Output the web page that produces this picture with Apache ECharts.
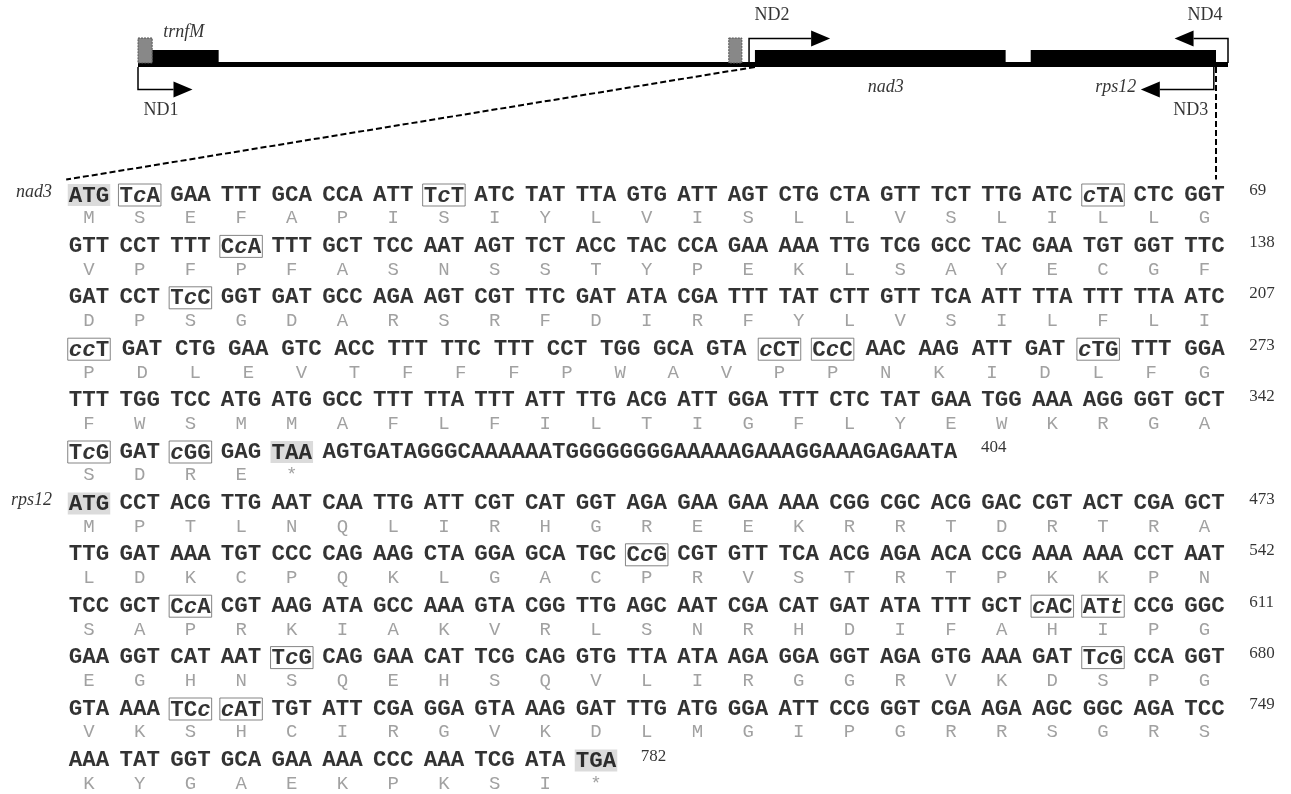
<!DOCTYPE html>
<html>
<head>
<meta charset="utf-8">
<script src="https://cdn.jsdelivr.net/npm/echarts@6/dist/echarts.min.js"></script>
<style>
  html, body { margin: 0; padding: 0; background: #fff; }
  #main { width: 1291px; height: 794px; }
</style>
</head>
<body>
<div id="main"></div>
<script>
// gene map (positions in % of the drawn map length)
const mapSpan = [ 0, 100 ];
const genes = [ [ 1.3, 7.4 ], [ 56.6, 79.6 ], [ 81.9, 98.9 ] ];
const geneNames = [ 'trnfM', 'nad3', 'rps12' ];
const geneLabelX = [ 4.2, 68.6, 89.7 ];
const geneLabelSide = [ 1, -1, -1 ];
const grayBoxes = [ [ 0, 1.3 ], [ 54.2, 55.4 ] ];
const primerNames = [ 'ND1', 'ND2', 'ND3', 'ND4' ];
const primerStart = [ 0, 56.06, 98.7, 100 ];
const primerEnd = [ 5.0, 63.5, 92.0, 95.1 ];
const primerSide = [ -1, 1, -1, 1 ];

// sequence
const codonRows = [
  'ATG TcA GAA TTT GCA CCA ATT TcT ATC TAT TTA GTG ATT AGT CTG CTA GTT TCT TTG ATC cTA CTC GGT',
  'GTT CCT TTT CcA TTT GCT TCC AAT AGT TCT ACC TAC CCA GAA AAA TTG TCG GCC TAC GAA TGT GGT TTC',
  'GAT CCT TcC GGT GAT GCC AGA AGT CGT TTC GAT ATA CGA TTT TAT CTT GTT TCA ATT TTA TTT TTA ATC',
  'ccT GAT CTG GAA GTC ACC TTT TTC TTT CCT TGG GCA GTA cCT CcC AAC AAG ATT GAT cTG TTT GGA',
  'TTT TGG TCC ATG ATG GCC TTT TTA TTT ATT TTG ACG ATT GGA TTT CTC TAT GAA TGG AAA AGG GGT GCT',
  'TcG GAT cGG GAG TAA',
  'ATG CCT ACG TTG AAT CAA TTG ATT CGT CAT GGT AGA GAA GAA AAA CGG CGC ACG GAC CGT ACT CGA GCT',
  'TTG GAT AAA TGT CCC CAG AAG CTA GGA GCA TGC CcG CGT GTT TCA ACG AGA ACA CCG AAA AAA CCT AAT',
  'TCC GCT CcA CGT AAG ATA GCC AAA GTA CGG TTG AGC AAT CGA CAT GAT ATA TTT GCT cAC ATt CCG GGC',
  'GAA GGT CAT AAT TcG CAG GAA CAT TCG CAG GTG TTA ATA AGA GGA GGT AGA GTG AAA GAT TcG CCA GGT',
  'GTA AAA TCc cAT TGT ATT CGA GGA GTA AAG GAT TTG ATG GGA ATT CCG GGT CGA AGA AGC GGC AGA TCC',
  'AAA TAT GGT GCA GAA AAA CCC AAA TCG ATA TGA'
];
const aaRows = [
  'M S E F A P I S I Y L V I S L L V S L I L L G',
  'V P F P F A S N S S T Y P E K L S A Y E C G F',
  'D P S G D A R S R F D I R F Y L V S I L F L I',
  'P D L E V T F F F P W A V P P N K I D L F G',
  'F W S M M A F L F I L T I G F L Y E W K R G A',
  'S D R E *',
  'M P T L N Q L I R H G R E E K R R T D R T R A',
  'L D K C P Q K L G A C P R V S T R T P K K P N',
  'S A P R K I A K V R L S N R H D I F A H I P G',
  'E G H N S Q E H S Q V L I R G G R V K D S P G',
  'V K S H C I R G V K D L M G I P G R R S G R S',
  'K Y G A E K P K S I *'
];
const rowEnds = [ 69, 138, 207, 273, 342, 404, 473, 542, 611, 680, 749, 782 ];
const startStop = [ [ 0, 0 ], [ 5, 4 ], [ 6, 0 ], [ 11, 10 ] ];
const tailRow = 5;
const tailSeq = 'AGTGATAGGGCAAAAAATGGGGGGGGAAAAAGAAAGGAAAGAGAATA';
const geneRows = [ 0, 6 ];
const geneRowNames = [ 'nad3', 'rps12' ];

const mono = '"Liberation Mono", "Courier New", monospace';
const serif = '"Liberation Serif", "Times New Roman", serif';
const colW = 50.7;
const seqSize = 22.5;
const charW = seqSize * 0.6;
const aaShift = 0.455;
const clear = 'rgba(0,0,0,0)';

function codonRich ( c )
{
  return c.split( '' ).map( ch => ( ch === ch.toLowerCase() ? '{i|' : '{b|' ) + ch + '}' ).join( '' );
}

let codonData = [], aaData = [], numData = [], rowLabelData = [];
codonRows.forEach( function ( row, r )
{
  const cods = row.split( ' ' );
  const step = cods.length === 22 ? 22 / 21 : 1;
  cods.forEach( function ( c, i )
  {
    let item = { value: [ i * step, r ], name: codonRich( c ) };
    if ( startStop.some( h => h[ 0 ] === r && h[ 1 ] === i ) )
    {
      item.label = { backgroundColor: '#d2d2d2', padding: [ 2, 1, 0, 1 ] };
    } else if ( /[a-z]/.test( c ) )
    {
      item.label = { borderColor: '#666', borderWidth: 1, padding: [ 2, 1, 0, 1 ] };
    }
    codonData.push( item );
  } );
  aaRows[ r ].split( ' ' ).forEach( function ( a, i )
  {
    aaData.push( { value: [ i * step, r + aaShift ], name: a } );
  } );
  let endPx = ( cods.length - 1 ) * step * colW + 1.5 * charW;
  if ( r === tailRow )
  {
    const tailStart = endPx + 10;
    codonData.push( { value: [ tailStart / colW, r ], name: '{b|' + tailSeq + '}', label: { position: 'right', distance: 0 } } );
    endPx = tailStart + tailSeq.length * charW;
  }
  numData.push( { value: [ ( endPx + 24 ) / colW, r ], name: String( rowEnds[ r ] ) } );
} );
geneRows.forEach( ( r, k ) => rowLabelData.push( { value: [ -0.72, r ], name: geneRowNames[ k ] } ) );

// map marks
let boxData = [ [ mapSpan[ 0 ], mapSpan[ 1 ], 0 ] ];
genes.forEach( g => boxData.push( [ g[ 0 ], g[ 1 ], 1 ] ) );
grayBoxes.forEach( g => boxData.push( [ g[ 0 ], g[ 1 ], 2 ] ) );
let primerData = primerNames.map( ( n, k ) => [ primerStart[ k ], primerEnd[ k ], primerSide[ k ] ] );
let mapTextData = geneNames.map( ( n, k ) => ( {
  value: [ geneLabelX[ k ], 0 ], name: n,
  label: { offset: [ 0, geneLabelSide[ k ] > 0 ? -32 : 23 ], fontStyle: 'italic' }
} ) );
primerNames.forEach( function ( n, k )
{
  const dir = primerEnd[ k ] > primerStart[ k ] ? 1 : -1;
  mapTextData.push( {
    value: [ primerStart[ k ], 0 ], name: n,
    label: { offset: [ dir * 23, primerSide[ k ] > 0 ? -49 : 46 ], fontStyle: 'normal' }
  } );
} );

let myChart = echarts.init( document.getElementById( 'main' ) );
const hiddenAxis = { show: false, axisLine: { show: false }, splitLine: { show: false }, axisTick: { show: false }, axisLabel: { show: false } };

function textSeries ( xi, data, label )
{
  return {
    type: 'scatter', xAxisIndex: xi, yAxisIndex: xi, silent: true, clip: false, progressive: 0,
    symbol: 'rect', symbolSize: 1, itemStyle: { color: clear },
    data: data,
    label: Object.assign( { show: true, position: 'inside', formatter: p => p.name }, label )
  };
}

let option = {
  animation: false,
  backgroundColor: '#fff',
  grid: [
    { left: 138, width: 1090, top: 14.5, height: 100 },
    { left: 89 - colW / 2, width: 23 * colW, top: 195 - 51.4 / 2, height: 12 * 51.4 }
  ],
  xAxis: [
    Object.assign( { type: 'value', gridIndex: 0, min: mapSpan[ 0 ], max: mapSpan[ 1 ] }, hiddenAxis ),
    Object.assign( { type: 'value', gridIndex: 1, min: -0.5, max: 22.5 }, hiddenAxis )
  ],
  yAxis: [
    Object.assign( { type: 'value', gridIndex: 0, min: -1, max: 1 }, hiddenAxis ),
    Object.assign( { type: 'value', gridIndex: 1, min: -0.5, max: 11.5, inverse: true }, hiddenAxis )
  ],
  series: [
    {
      type: 'custom', xAxisIndex: 0, yAxisIndex: 0, silent: true, clip: false,
      data: boxData,
      renderItem: function ( params, api )
      {
        const s = api.coord( [ api.value( 0 ), 0 ] );
        const e = api.coord( [ api.value( 1 ), 0 ] );
        const kind = api.value( 2 );
        const base = s[ 1 ];
        if ( kind === 0 )
          return { type: 'rect', shape: { x: s[ 0 ], y: base - 2.5, width: e[ 0 ] - s[ 0 ], height: 5 }, style: { fill: '#000' } };
        if ( kind === 1 )
          return { type: 'rect', shape: { x: s[ 0 ], y: base - 14.5, width: e[ 0 ] - s[ 0 ], height: 17 }, style: { fill: '#000' } };
        return {
          type: 'rect', shape: { x: s[ 0 ], y: base - 26.5, width: e[ 0 ] - s[ 0 ], height: 25 },
          style: { fill: '#888', stroke: '#555', lineWidth: 1, lineDash: [ 2, 1 ] }
        };
      }
    },
    {
      type: 'custom', xAxisIndex: 0, yAxisIndex: 0, silent: true, clip: false,
      data: primerData,
      renderItem: function ( params, api )
      {
        const p0 = api.coord( [ api.value( 0 ), 0 ] );
        const p1 = api.coord( [ api.value( 1 ), 0 ] );
        const side = api.value( 2 );
        const dir = p1[ 0 ] > p0[ 0 ] ? 1 : -1;
        const base = p0[ 1 ];
        const y0 = side > 0 ? base - 1.5 : base + 2.5;
        const yv = side > 0 ? base - 26 : base + 25;
        const hx = p1[ 0 ] - dir * 19;
        return {
          type: 'group',
          children: [
            { type: 'polyline', shape: { points: [ [ p0[ 0 ], y0 ], [ p0[ 0 ], yv ], [ hx, yv ] ] }, style: { stroke: '#000', lineWidth: 1.5, fill: null } },
            { type: 'polygon', shape: { points: [ [ hx, yv - 8 ], [ p1[ 0 ], yv ], [ hx, yv + 8 ] ] }, style: { fill: '#000' } }
          ]
        };
      }
    },
    textSeries( 0, mapTextData, { color: '#000', fontFamily: serif, fontSize: 18 } ),
    textSeries( 1, codonData, {
      rich: {
        b: { fontFamily: mono, fontWeight: 'bold', fontSize: seqSize, color: '#000', lineHeight: 20 },
        i: { fontFamily: mono, fontWeight: 'bold', fontStyle: 'italic', fontSize: seqSize, color: '#000', lineHeight: 20 }
      }
    } ),
    textSeries( 1, aaData, { color: '#8a8a8a', fontFamily: mono, fontSize: 19 } ),
    textSeries( 1, numData, { position: 'right', distance: 0, offset: [ 0, -4 ], color: '#000', fontFamily: serif, fontSize: 17 } ),
    textSeries( 1, rowLabelData, { position: 'left', distance: 0, offset: [ 0, -3 ], color: '#000', fontFamily: serif, fontStyle: 'italic', fontSize: 18 } )
  ]
};
myChart.setOption( option );

// dashed zoom lines from the map down to the sequence
( function ()
{
  const a = myChart.convertToPixel( { gridIndex: 0 }, [ genes[ 1 ][ 0 ], 0 ] );
  const b = myChart.convertToPixel( { gridIndex: 1 }, [ -0.45, -0.3 ] );
  const c = myChart.convertToPixel( { gridIndex: 0 }, [ genes[ 2 ][ 1 ], 0 ] );
  const dashStyle = { stroke: '#000', lineWidth: 2, lineDash: [ 6, 3 ] };
  myChart.setOption( {
    graphic: [
      { type: 'line', silent: true, shape: { x1: a[ 0 ], y1: a[ 1 ] + 2.5, x2: b[ 0 ], y2: b[ 1 ] }, style: dashStyle },
      { type: 'line', silent: true, shape: { x1: c[ 0 ], y1: c[ 1 ] + 2.5, x2: c[ 0 ], y2: b[ 1 ] }, style: dashStyle }
    ]
  } );
} )();

window.addEventListener( 'resize', function ()
{
  myChart.resize();
} );
</script>
</body>
</html>
